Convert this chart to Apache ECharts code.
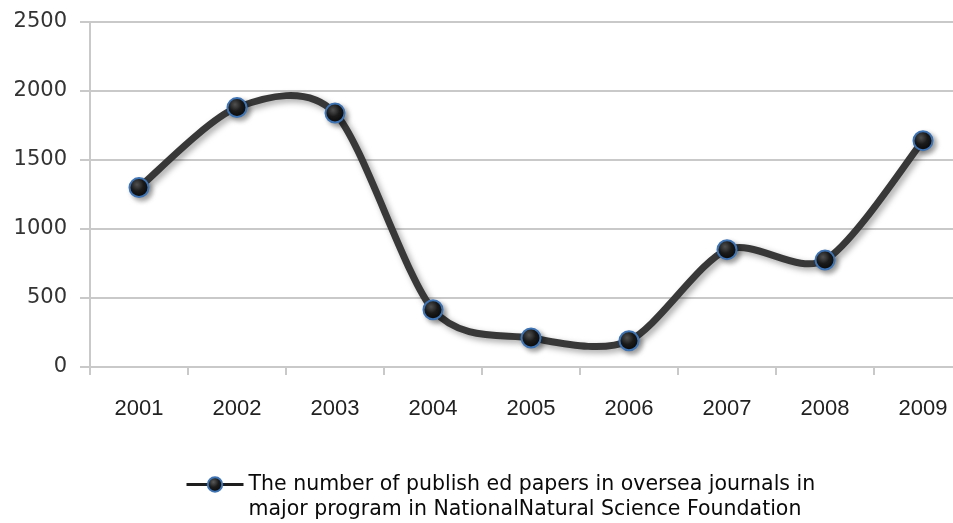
<!DOCTYPE html>
<html>
<head>
<meta charset="utf-8">
<script src="https://cdn.jsdelivr.net/npm/echarts@6/dist/echarts.min.js"></script>
<style>
  html, body { margin: 0; padding: 0; background: #ffffff; }
  #chart { width: 953px; height: 523px; }
</style>
</head>
<body>
<div id="chart"></div>
<script>
// Published papers per year
const years = ['2001', '2002', '2003', '2004', '2005', '2006', '2007', '2008', '2009'];
const papers = [1300, 1880, 1840, 415, 210, 190, 850, 775, 1640];
const yTicks = { min: 0, max: 2500, interval: 500 };
const seriesName = 'The number of publish ed papers in oversea journals in\nmajor program in NationalNatural Science Foundation';

const labelFont = '"Liberation Sans", Arial, sans-serif';
const valueFont = '"DejaVu Sans", sans-serif';
const gridColor = '#c9c9c9';
const curveColor = '#383838';

const chart = echarts.init(document.getElementById('chart'), null, { renderer: 'canvas' });

const markerFill = new echarts.graphic.RadialGradient(0.4, 0.35, 0.7, [
  { offset: 0, color: '#5a5a5a' },
  { offset: 0.45, color: '#1c1c1c' },
  { offset: 1, color: '#050505' }
]);

// Cardinal-spline path through the data points, converted to pixel space by the axes
const TENSION = 0.85 / 6;
function renderCurve(params, api) {
  if (params.dataIndex !== 0) return null;
  const pts = papers.map((v, i) => api.coord([i, v]));
  const n = pts.length;
  let d = 'M' + pts[0][0] + ' ' + pts[0][1];
  for (let i = 0; i < n - 1; i++) {
    const p0 = pts[Math.max(i - 1, 0)];
    const p1 = pts[i];
    const p2 = pts[i + 1];
    const p3 = pts[Math.min(i + 2, n - 1)];
    const c1x = p1[0] + (p2[0] - p0[0]) * TENSION;
    const c1y = p1[1] + (p2[1] - p0[1]) * TENSION;
    const c2x = p2[0] - (p3[0] - p1[0]) * TENSION;
    const c2y = p2[1] - (p3[1] - p1[1]) * TENSION;
    d += ' C' + c1x + ' ' + c1y + ' ' + c2x + ' ' + c2y + ' ' + p2[0] + ' ' + p2[1];
  }
  return {
    type: 'path',
    shape: { pathData: d },
    style: {
      fill: null,
      stroke: curveColor,
      lineWidth: 7,
      lineCap: 'round',
      lineJoin: 'round',
      shadowColor: 'rgba(0,0,0,0.35)',
      shadowBlur: 6,
      shadowOffsetX: 3,
      shadowOffsetY: 3
    }
  };
}

chart.setOption({
  animation: false,
  backgroundColor: '#ffffff',
  // the last category runs past the right edge of the canvas
  grid: { left: 90, width: 882, top: 22, bottom: 156, containLabel: false, outerBoundsMode: 'none' },
  xAxis: {
    type: 'category',
    data: years,
    boundaryGap: true,
    axisLine: { show: true, lineStyle: { color: gridColor, width: 2 } },
    axisTick: { show: true, length: 8, lineStyle: { color: gridColor, width: 2 } },
    axisLabel: { color: '#222222', fontSize: 22, fontFamily: labelFont, margin: 31 },
    splitLine: { show: false }
  },
  yAxis: {
    type: 'value',
    min: yTicks.min,
    max: yTicks.max,
    interval: yTicks.interval,
    axisLine: { show: true, lineStyle: { color: gridColor, width: 2 } },
    axisTick: { show: true, length: 10, lineStyle: { color: gridColor, width: 2 } },
    axisLabel: {
      color: '#333333', fontSize: 21, fontFamily: valueFont, margin: 23,
      formatter: v => String(v)
    },
    splitLine: { show: true, lineStyle: { color: gridColor, width: 2 } }
  },
  legend: {
    show: true,
    left: 185,
    top: 447,
    padding: 0,
    itemWidth: 57,
    itemHeight: 18,
    data: [seriesName],
    lineStyle: { color: '#1e1e1e', width: 3, opacity: 1 },
    // blank first line keeps the symbol level with the first text line
    formatter: name => ' \n' + name,
    textStyle: {
      color: '#0a0a0a',
      fontSize: 20.5,
      fontFamily: valueFont,
      lineHeight: 25
    }
  },
  series: [
    {
      type: 'custom',
      silent: true,
      z: 2,
      data: papers.map((v, i) => [i, v]),
      renderItem: renderCurve
    },
    {
      name: seriesName,
      type: 'line',
      z: 3,
      data: papers,
      symbol: 'circle',
      symbolSize: 19,
      lineStyle: { color: curveColor, width: 0, opacity: 0 },
      itemStyle: {
        color: markerFill,
        borderColor: '#3f74b4',
        borderWidth: 2,
        shadowColor: 'rgba(0,0,0,0.35)',
        shadowBlur: 5,
        shadowOffsetX: 3,
        shadowOffsetY: 3
      }
    }
  ]
});
</script>
</body>
</html>
